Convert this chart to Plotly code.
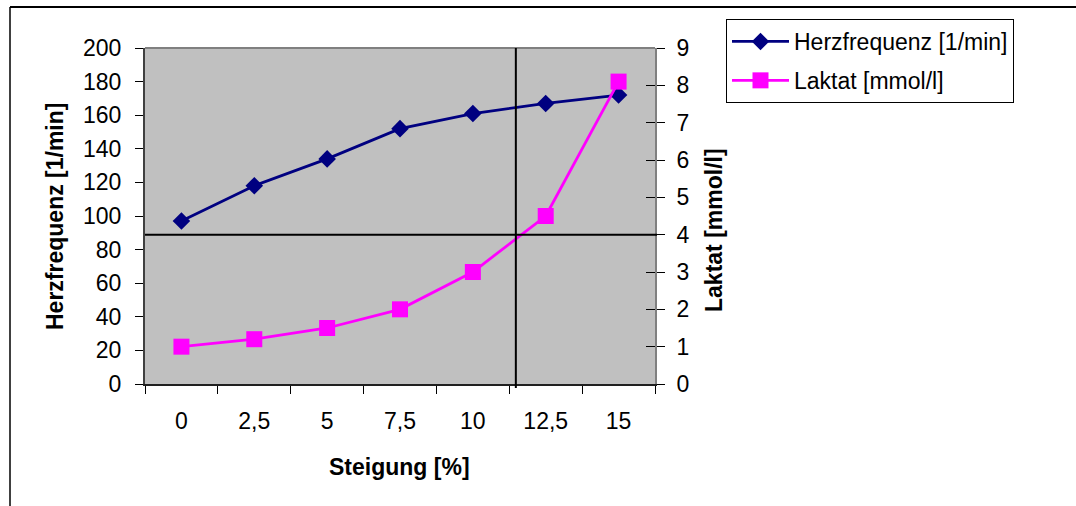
import plotly.graph_objects as go

# ---- data ----
steigung = ["0", "2,5", "5", "7,5", "10", "12,5", "15"]
herzfrequenz = [97, 118, 134, 152, 161, 167, 172]
laktat = [1.0, 1.2, 1.5, 2.0, 3.0, 4.5, 8.1]
hr_ticks = list(range(0, 201, 20))
lak_ticks = list(range(0, 10))
schwelle_laktat = 4.0          # 4 mmol/l threshold
schwelle_index = 4.59          # category position where lactate reaches 4 mmol/l

W, H = 1076, 506
L, R, T, B = 145, 421, 48, 122
PW, PH = W - L - R, H - T - B


def px(x):
    return (x - L) / PW


def py(y):
    return (H - B - y) / PH


FONT = "Liberation Sans, Arial, sans-serif"
FS = 23

fig = go.Figure()
fig.add_trace(go.Scatter(
    x=steigung, y=herzfrequenz, name="Herzfrequenz [1/min]",
    mode="lines+markers", line=dict(color="#000080", width=2.8),
    marker=dict(symbol="diamond", size=13.5, color="#000080"),
    legendgroup="a", yaxis="y"))
fig.add_trace(go.Scatter(
    x=steigung, y=laktat, name="Laktat [mmol/l]",
    mode="lines+markers", line=dict(color="#FF00FF", width=2.8),
    marker=dict(symbol="square", size=16, color="#FF00FF"),
    legendgroup="b", yaxis="y2"))
fig.add_trace(go.Scatter(
    x=steigung, y=[None] * len(steigung), yaxis="y3",
    showlegend=False, hoverinfo="skip", mode="lines"))

tickfont = dict(family=FONT, size=FS, color="black")

fig.update_layout(
    width=W, height=H,
    margin=dict(l=L, r=R, t=T, b=B, pad=0),
    paper_bgcolor="white", plot_bgcolor="#C0C0C0",
    font=dict(family=FONT, size=FS, color="black"),
    xaxis=dict(type="category", categoryorder="array", categoryarray=steigung,
               range=[-0.5, len(steigung) - 0.5], tickson="boundaries",
               ticks="outside", ticklen=8, tickwidth=1, tickcolor="black",
               showline=True, linecolor="#202020", linewidth=2,
               showgrid=False, zeroline=False, tickfont=tickfont,
               ticklabelstandoff=15),
    yaxis=dict(range=[0, 200], tickvals=hr_ticks, ticks="outside", ticklen=8,
               tickwidth=1, tickcolor="black", showline=True,
               linecolor="#404040", linewidth=2, showgrid=False,
               zeroline=False, tickfont=tickfont, ticklabelstandoff=9),
    yaxis2=dict(range=[0, 9], tickvals=lak_ticks, overlaying="y", side="right",
                ticks="outside", ticklen=8, tickwidth=1, tickcolor="black",
                showline=True, linecolor="#808080", linewidth=2,
                showgrid=False, zeroline=False, tickfont=tickfont,
                ticklabelstandoff=7),
    yaxis3=dict(range=[0, 9], tickvals=lak_ticks, overlaying="y", side="right",
                ticks="inside", ticklen=9, tickwidth=1, tickcolor="black",
                showline=False, showgrid=False, zeroline=False,
                showticklabels=False),
    showlegend=True,
    legend=dict(x=px(726), y=py(19), xanchor="left", yanchor="top",
                bgcolor="white", bordercolor="black", borderwidth=1,
                font=dict(family=FONT, size=FS, color="black"),
                itemwidth=57, tracegroupgap=6, traceorder="grouped"),
)

shapes = [
    # plot-area border (top)
    dict(type="line", xref="paper", yref="paper", x0=0, x1=1, y0=1, y1=1,
         line=dict(color="#808080", width=2)),
    # threshold lines
    dict(type="line", xref="paper", yref="y2", x0=0, x1=px(657),
         y0=schwelle_laktat, y1=schwelle_laktat, line=dict(color="black", width=2)),
    dict(type="line", xref="x", yref="paper", x0=schwelle_index, x1=schwelle_index,
         y0=py(388), y1=1, line=dict(color="black", width=2)),
    # outer frame
    dict(type="line", xref="paper", yref="paper", x0=px(10), x1=px(1080),
         y0=py(7), y1=py(7), line=dict(color="black", width=2)),
    dict(type="line", xref="paper", yref="paper", x0=px(10), x1=px(10),
         y0=py(7), y1=py(510), line=dict(color="black", width=1.5)),
]
fig.update_layout(shapes=shapes)

titlefont = dict(family=FONT, size=FS, color="black", weight="bold")
fig.add_annotation(text="Herzfrequenz [1/min]", xref="paper", yref="paper",
                   x=px(55), y=py(217), textangle=-90, showarrow=False,
                   font=titlefont, xanchor="center", yanchor="middle")
fig.add_annotation(text="Laktat [mmol/l]", xref="paper", yref="paper",
                   x=px(714), y=py(230), textangle=-90, showarrow=False,
                   font=titlefont, xanchor="center", yanchor="middle")
fig.add_annotation(text="Steigung [%]", xref="paper", yref="paper",
                   x=px(399), y=py(467), showarrow=False,
                   font=titlefont, xanchor="center", yanchor="middle")

fig.write_html("out.html")
